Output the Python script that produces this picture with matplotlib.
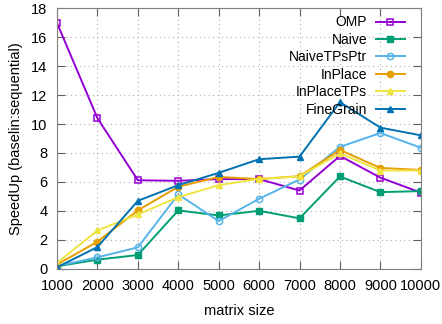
import matplotlib
matplotlib.use("Agg")
import matplotlib.pyplot as plt

plt.rcParams["font.family"] = ["Liberation Sans", "DejaVu Sans"]

sizes = [1000, 2000, 3000, 4000, 5000, 6000, 7000, 8000, 9000, 10000]

omp = [16.97, 10.4, 6.12, 6.08, 6.2, 6.2, 5.41, 7.8, 6.3, 5.27]
naive = [0.18, 0.64, 0.96, 4.04, 3.69, 4.01, 3.49, 6.38, 5.3, 5.37]
naive_tps_ptr = [0.2, 0.8, 1.49, 5.14, 3.3, 4.84, 6.17, 8.42, 9.38, 8.37]
inplace = [0.3, 1.88, 4.04, 5.67, 6.35, 6.2, 6.4, 8.21, 6.97, 6.83]
inplace_tps = [0.41, 2.66, 3.76, 4.95, 5.78, 6.22, 6.38, 7.98, 6.79, 6.79]
fine_grain = [0.11, 1.51, 4.7, 5.78, 6.63, 7.57, 7.75, 11.51, 9.75, 9.22]

series = [
    ("OMP", omp, "#9400d3", "s", "none"),
    ("Naive", naive, "#009e73", "s", None),
    ("NaiveTPsPtr", naive_tps_ptr, "#56b4e9", "o", "none"),
    ("InPlace", inplace, "#e69f00", "o", None),
    ("InPlaceTPs", inplace_tps, "#f0e442", "^", None),
    ("FineGrain", fine_grain, "#0072b2", "^", None),
]

fig = plt.figure(figsize=(4.42, 3.24), dpi=100)
ax = fig.add_axes([0.129, 0.170, 0.823, 0.805])

for name, vals, col, mk, mfc in series:
    kw = dict(color=col, marker=mk, markersize=4.5, linewidth=1.4, label=name)
    if mfc == "none":
        kw["markerfacecolor"] = "none"
        kw["markeredgewidth"] = 1.1
    ax.plot(sizes, vals, **kw)

ax.set_xlim(1000, 10000)
ax.set_ylim(0, 18)
ax.set_xticks(sizes)
ax.set_yticks(range(0, 19, 2))
ax.tick_params(direction="in", top=True, right=True, labelsize=10.5, length=6,
               color="#606060", pad=7)
ax.grid(True, linestyle=(0, (1, 3)), color="#b0b0b0", linewidth=0.8)
for s in ax.spines.values():
    s.set_color("#808080")

ax.set_xlabel("matrix size", fontsize=10.5, labelpad=8)
ax.set_ylabel("SpeedUp (baselin:sequential)", fontsize=10.5, labelpad=6)

ax.legend(loc="upper right", frameon=False, markerfirst=False, fontsize=10,
          handlelength=2.1, labelspacing=0.25, borderaxespad=0, borderpad=0,
          handletextpad=0.6, bbox_to_anchor=(0.956, 0.972))

plt.savefig("out.png", dpi=100)
